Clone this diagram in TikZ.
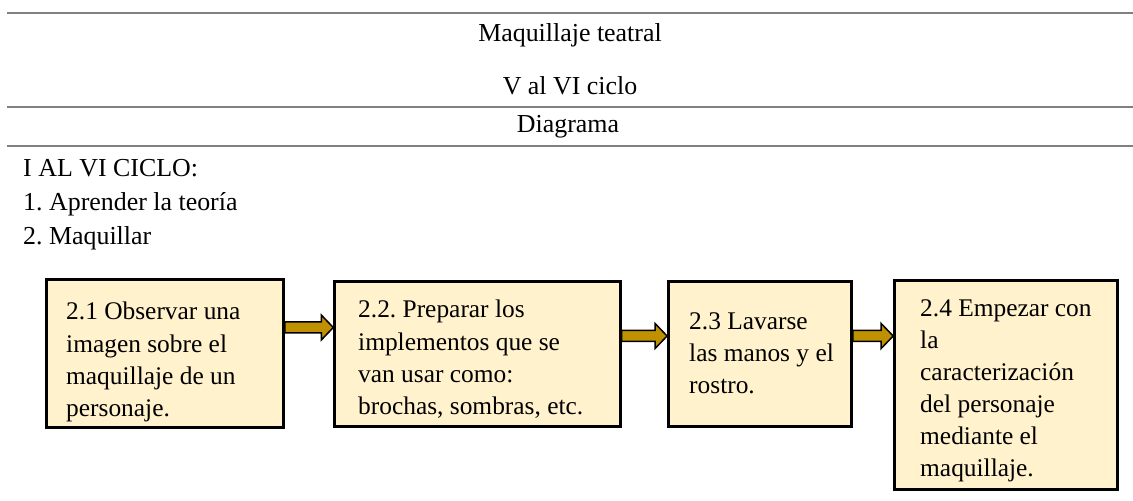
\documentclass[tikz,border=0pt]{standalone}
\usepackage{fontspec}
\setmainfont{Liberation Serif}
\usetikzlibrary{calc,backgrounds}
\definecolor{cream}{HTML}{FFF2CC}
\definecolor{gold}{HTML}{BF9000}
\definecolor{rulegray}{HTML}{808080}
\newcommand{\blockarrow}[2]{%
  \draw[arrowbody] ($(#1)+(0,-5.5)$) -- ($(#2)+(-12,-5.5)$) -- ($(#2)+(-12,-12.5)$) -- (#2)
    -- ($(#2)+(-12,12.5)$) -- ($(#2)+(-12,5.5)$) -- ($(#1)+(0,5.5)$) -- cycle;}
\begin{document}
\frenchspacing
\begin{tikzpicture}[x=1bp,y=-1bp,
  rulestyle/.style={draw=rulegray, line width=2bp},
  head/.style={inner sep=0, font=\fontsize{26}{32}\selectfont\frenchspacing},
  box/.style={draw=black, fill=cream, line width=2.5bp, inner sep=0},
  boxtext/.style={inner sep=0, align=left, anchor=north west, font=\fontsize{25.5}{32.3}\selectfont\frenchspacing},
  arrowbody/.style={draw=black, fill=gold, line width=1.5bp, line join=miter}]
\useasboundingbox (0,0) rectangle (1133,501);

% horizontal rules
\draw[rulestyle] (7,13) -- (1133,13);
\draw[rulestyle] (7,107) -- (1133,107);
\draw[rulestyle] (7,146) -- (1133,146);

% headings
\node[head, anchor=base] (title) at (570,42) {Maquillaje teatral};
\node[head, anchor=base] (cycle) at (570,95) {V al VI ciclo};
\node[head, anchor=base] (diag) at (568,133) {Diagrama};

\node[head, anchor=base west] (l0) at (23,177) {I AL VI CICLO:};
\node[head, anchor=base west] (l1) at (23,211) {1. Aprender la teoría};
\node[head, anchor=base west] (l2) at (23,245) {2. Maquillar};

% boxes
\node[box, minimum width=238, minimum height=149] (b1) at (165,353.5) {};
\node[box, minimum width=287, minimum height=146] (b2) at (477.5,354) {};
\node[box, minimum width=184, minimum height=146] (b3) at (760,354) {};
\node[box, minimum width=224, minimum height=210] (b4) at (1006,385) {};

\node[boxtext] (t1) at (66,302) {2.1 Observar una\\imagen sobre el\\maquillaje de un\\personaje.};
\node[boxtext] (t2) at (358,300) {2.2. Preparar los\\implementos que se\\van usar como:\\brochas, sombras, etc.};
\node[boxtext] (t3) at (689,312) {2.3 Lavarse\\las manos y el\\rostro.};
\node[boxtext] (t4) at (920,299) {2.4 Empezar con\\la\\caracterización\\del personaje\\mediante el\\maquillaje.};

% arrow anchor points
\coordinate (a1s) at (b1.east |- 0,327.5);
\coordinate (a1e) at (b2.west |- 0,327.5);
\coordinate (a2s) at (b2.east |- 0,336);
\coordinate (a2e) at (b3.west |- 0,336);
\coordinate (a3s) at (b3.east |- 0,336);
\coordinate (a3e) at (b4.west |- 0,336);

\begin{scope}[on background layer]
  \fill[white] (0,0) rectangle (1133,501);
  \blockarrow{a1s}{a1e}
  \blockarrow{a2s}{a2e}
  \blockarrow{a3s}{a3e}
\end{scope}
\end{tikzpicture}
\end{document}
